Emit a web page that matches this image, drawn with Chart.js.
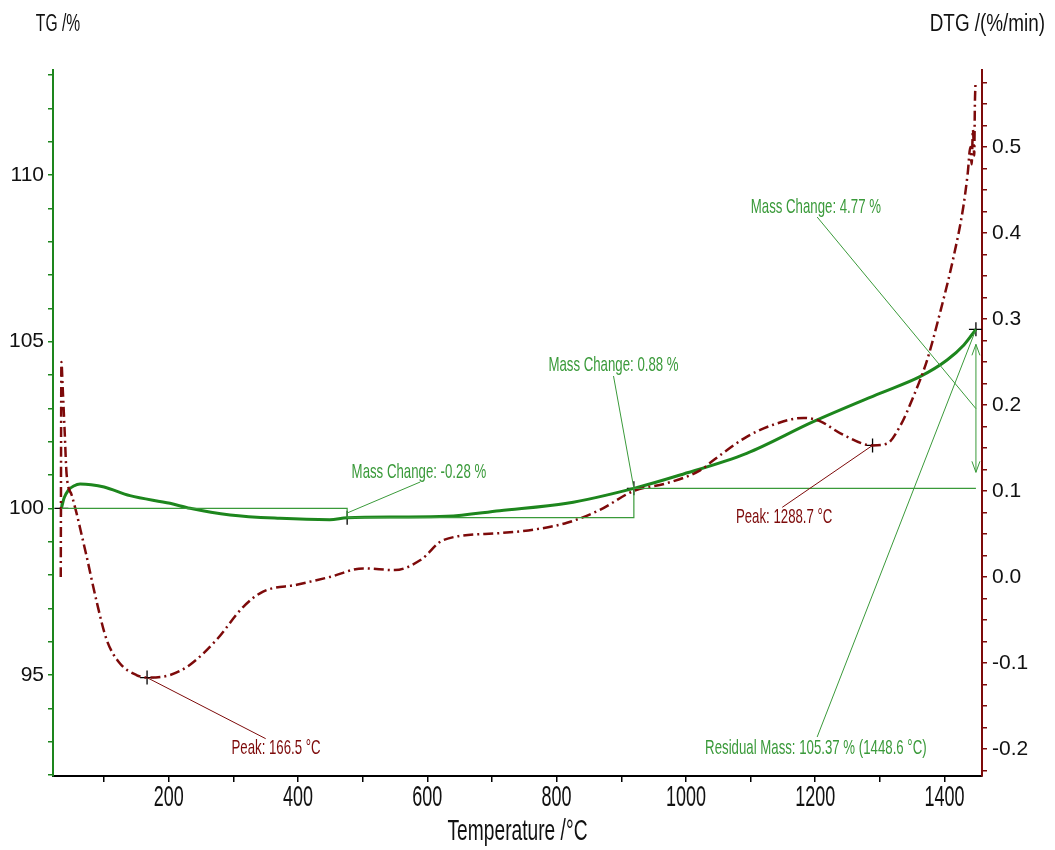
<!DOCTYPE html>
<html>
<head>
<meta charset="utf-8">
<script src="https://cdn.jsdelivr.net/npm/chart.js@4.4.1/dist/chart.umd.min.js"></script>
<style>
  html, body { margin: 0; background: #fff; }
  #wrap { width: 1055px; height: 850px; }
</style>
</head>
<body>
<div id="wrap"><canvas id="tgChart" width="1055" height="850"></canvas></div>
<script>
// TG curve (mass %, left axis)
const tgTemp = [34, 38, 45, 53, 63, 80, 100, 140, 202, 233, 295, 372, 449, 476, 558, 630, 712, 816, 919.5, 991, 1094, 1197, 1300, 1362, 1404, 1430, 1448.6];
const tgMass = [100.0, 100.3, 100.55, 100.67, 100.73, 100.71, 100.64, 100.38, 100.15, 100.0, 99.8, 99.7, 99.66, 99.72, 99.74, 99.76, 99.93, 100.15, 100.6, 101.0, 101.65, 102.6, 103.45, 103.95, 104.45, 104.9, 105.37];

// DTG curve (%/min, right axis)
const dtgTemp = [33, 34, 36, 39, 42, 50, 57.5, 65, 73, 88, 104, 124, 150, 166.5, 202, 233, 274, 315, 346, 398, 449, 501, 550, 590, 625, 712, 764, 816, 867, 919, 970, 1022, 1043, 1094, 1135, 1182, 1208, 1239, 1288.7, 1311, 1331, 1352, 1373, 1393, 1414, 1429, 1436, 1440, 1442, 1444, 1446, 1447, 1448];
const dtgRate = [0.0, 0.25, 0.22, 0.17, 0.12, 0.095, 0.074, 0.05, 0.024, -0.027, -0.073, -0.1, -0.114, -0.117, -0.114, -0.102, -0.073, -0.035, -0.017, -0.009, 0.0, 0.01, 0.008, 0.02, 0.043, 0.051, 0.055, 0.063, 0.078, 0.1, 0.109, 0.124, 0.136, 0.163, 0.177, 0.185, 0.181, 0.167, 0.153, 0.155, 0.175, 0.21, 0.252, 0.307, 0.372, 0.43, 0.47, 0.5, 0.48, 0.52, 0.49, 0.55, 0.575];

// evaluation steps (TG baseline levels) and marked points
const stepTemp = [34, 476, 476, 919.5, 919.5, 1448.6];
const stepMass = [100.0, 100.0, 99.72, 99.72, 100.6, 100.6];
const tgMarkTemp = [34, 476, 919.5, 1448.6];
const tgMarkMass = [100.0, 99.72, 100.6, 105.37];
const dtgMarkTemp = [166.5, 1288.7];
const dtgMarkRate = [-0.117, 0.153];

// axis ticks
const xMajor = [200, 400, 600, 800, 1000, 1200, 1400];
const tgMajor = [95, 100, 105, 110];
const dtgMajor = [-0.2, -0.1, 0.0, 0.1, 0.2, 0.3, 0.4, 0.5];

const GREEN = '#1d861d';
const GREEN_TXT = '#3a9a3a';
const RED = '#7d0a0a';

const pts = (xs, ys) => xs.map((x, i) => ({ x: x, y: ys[i] }));

function minorTicks(min, max, step) {
  const out = [];
  for (let v = min; v <= max + 1e-9; v += step) out.push(Math.round(v * 1000) / 1000);
  return out;
}
const isMajor = (v, list) => list.some(m => Math.abs(m - v) < 1e-6);

// annotation texts, anchored in data units
const notes = [
  { text: 'Mass Change: -0.28 %', axis: 'yTG', at: [587, 101.09], from: [476, 99.86], to: [589, 100.79], color: GREEN_TXT },
  { text: 'Mass Change: 0.88 %', axis: 'yTG', at: [888, 104.3], from: [919.5, 100.6], to: [888, 103.97], color: GREEN_TXT },
  { text: 'Mass Change: 4.77 %', axis: 'yTG', at: [1201, 109.04], from: [1448.6, 102.99], to: [1203, 108.74], color: GREEN_TXT },
  { text: 'Residual Mass: 105.37 % (1448.6 °C)', axis: 'yTG', at: [1201, 92.81], from: [1448.6, 105.37], to: [1203, 93.14], color: GREEN_TXT },
  { text: 'Peak: 166.5 °C', axis: 'yDTG', at: [366, -0.199], from: [166.5, -0.117], to: [350, -0.188], color: RED },
  { text: 'Peak: 1288.7 °C', axis: 'yDTG', at: [1152, 0.069], from: [1288.7, 0.153], to: [1149, 0.081], color: RED }
];

function squeezedText(ctx, str, x, y, size, sx, color, align) {
  ctx.save();
  ctx.font = size + 'px "Liberation Sans", Arial, sans-serif';
  ctx.fillStyle = color;
  ctx.textAlign = align || 'center';
  ctx.textBaseline = 'middle';
  ctx.translate(x, y);
  ctx.scale(sx, 1);
  ctx.fillText(str, 0, 0);
  ctx.restore();
}

const overlay = {
  id: 'overlay',
  afterDatasetsDraw(chart) {
    const ctx = chart.ctx;
    const xs = chart.scales.x;

    notes.forEach(n => {
      const ys = chart.scales[n.axis];
      ctx.save();
      ctx.strokeStyle = n.color;
      ctx.lineWidth = 1;
      ctx.beginPath();
      ctx.moveTo(xs.getPixelForValue(n.from[0]), ys.getPixelForValue(n.from[1]));
      ctx.lineTo(xs.getPixelForValue(n.to[0]), ys.getPixelForValue(n.to[1]));
      ctx.stroke();
      ctx.restore();
      squeezedText(ctx, n.text, xs.getPixelForValue(n.at[0]), ys.getPixelForValue(n.at[1]), 21, 0.63, n.color);
    });

    // double arrow for the last mass step
    const ax = xs.getPixelForValue(1448.6);
    const yTop = chart.scales.yTG.getPixelForValue(105.37) + 15;
    const yBot = chart.scales.yTG.getPixelForValue(100.6) - 16;
    ctx.save();
    ctx.strokeStyle = GREEN_TXT;
    ctx.lineWidth = 1;
    ctx.beginPath();
    ctx.moveTo(ax, yTop); ctx.lineTo(ax, yBot);
    ctx.moveTo(ax - 4, yTop + 11); ctx.lineTo(ax, yTop); ctx.lineTo(ax + 4, yTop + 11);
    ctx.moveTo(ax - 4, yBot - 11); ctx.lineTo(ax, yBot); ctx.lineTo(ax + 4, yBot - 11);
    ctx.stroke();
    ctx.restore();
  },
  afterDraw(chart) {
    const ctx = chart.ctx;
    const xs = chart.scales.x;
    const area = chart.chartArea;
    xMajor.forEach(v => {
      squeezedText(ctx, String(v), xs.getPixelForValue(v), area.bottom + 22, 30, 0.6, '#111');
    });
    squeezedText(ctx, 'Temperature /°C', (area.left + area.right) / 2, area.bottom + 56, 30, 0.64, '#111');
    squeezedText(ctx, 'TG /%', 58, 25, 23, 0.68, '#111');
    squeezedText(ctx, 'DTG /(%/min)', 1045, 25, 23, 0.82, '#111', 'right');
  }
};

const ctx = document.getElementById('tgChart').getContext('2d');
new Chart(ctx, {
  type: 'scatter',
  data: {
    datasets: [
      {
        label: 'Steps',
        data: pts(stepTemp, stepMass),
        yAxisID: 'yTG',
        showLine: true,
        borderColor: GREEN_TXT,
        borderWidth: 1.2,
        pointRadius: 0,
        tension: 0
      },
      {
        label: 'DTG',
        data: pts(dtgTemp, dtgRate),
        yAxisID: 'yDTG',
        showLine: true,
        borderColor: RED,
        borderWidth: 2.5,
        borderDash: [10, 4, 2, 4],
        pointRadius: 0,
        cubicInterpolationMode: 'monotone'
      },
      {
        label: 'TG',
        data: pts(tgTemp, tgMass),
        yAxisID: 'yTG',
        showLine: true,
        borderColor: GREEN,
        borderWidth: 3,
        pointRadius: 0,
        cubicInterpolationMode: 'monotone'
      },
      {
        label: 'TG marks',
        data: pts(tgMarkTemp, tgMarkMass),
        yAxisID: 'yTG',
        pointStyle: 'cross',
        pointRadius: 7,
        borderColor: '#000',
        borderWidth: 1.3
      },
      {
        label: 'DTG marks',
        data: pts(dtgMarkTemp, dtgMarkRate),
        yAxisID: 'yDTG',
        pointStyle: 'cross',
        pointRadius: 7,
        borderColor: '#000',
        borderWidth: 1.3
      }
    ]
  },
  options: {
    responsive: false,
    animation: false,
    layout: { padding: { top: 70, left: 0, right: 0, bottom: 0 } },
    plugins: { legend: { display: false }, tooltip: { enabled: false } },
    scales: {
      x: {
        type: 'linear',
        position: 'bottom',
        min: 21,
        max: 1458,
        afterBuildTicks: s => { s.ticks = minorTicks(100, 1400, 100).map(v => ({ value: v })); },
        afterFit: s => { s.height = 74; },
        border: { color: '#000', width: 2 },
        grid: { drawOnChartArea: false, tickLength: 6, color: '#000', lineWidth: 1.5 },
        ticks: { display: false, autoSkip: false }
      },
      yTG: {
        type: 'linear',
        position: 'left',
        min: 91.97,
        max: 113.15,
        afterBuildTicks: s => { s.ticks = minorTicks(92, 113, 1).map(v => ({ value: v })); },
        afterFit: s => { s.width = 53; },
        border: { color: GREEN, width: 2 },
        grid: { drawOnChartArea: false, tickLength: 5, color: GREEN, lineWidth: 1.5 },
        ticks: {
          autoSkip: false,
          padding: 4,
          color: '#111',
          font: { family: '"Liberation Sans", Arial, sans-serif', size: 21 },
          callback: v => isMajor(v, tgMajor) ? String(v) : ''
        }
      },
      yDTG: {
        type: 'linear',
        position: 'right',
        min: -0.2314,
        max: 0.5895,
        afterBuildTicks: s => { s.ticks = minorTicks(-0.225, 0.575, 0.025).map(v => ({ value: v })); },
        afterFit: s => { s.width = 73; },
        border: { color: RED, width: 2 },
        grid: { drawOnChartArea: false, tickLength: 5, color: RED, lineWidth: 1.5 },
        ticks: {
          autoSkip: false,
          padding: 5,
          color: '#111',
          font: { family: '"Liberation Sans", Arial, sans-serif', size: 21 },
          callback: v => isMajor(v, dtgMajor) ? v.toFixed(1) : ''
        }
      }
    }
  },
  plugins: [overlay]
});
</script>
</body>
</html>
